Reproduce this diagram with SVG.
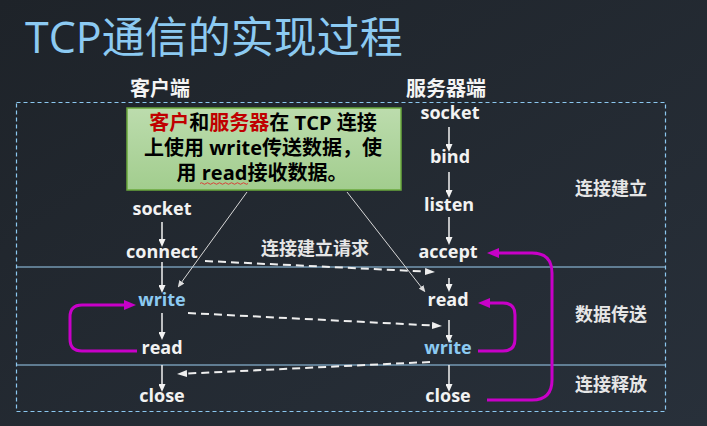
<svg xmlns="http://www.w3.org/2000/svg" width="707" height="426" viewBox="0 0 707 426">
  <defs>
    <linearGradient id="bg" x1="0" y1="0" x2="1" y2="1">
      <stop offset="0" stop-color="#1e2329"/>
      <stop offset="1" stop-color="#28303a"/>
    </linearGradient>
    <linearGradient id="note" x1="0" y1="0" x2="0" y2="1">
      <stop offset="0" stop-color="#bcdcad"/>
      <stop offset="1" stop-color="#a2cd8e"/>
    </linearGradient>
    <marker id="wh" viewBox="0 0 8 7" refX="4" refY="3.5" markerWidth="8" markerHeight="7" markerUnits="userSpaceOnUse" orient="auto">
      <path d="M0,0 L8,3.5 L0,7 z" fill="#f2f2f2"/>
    </marker>
    <marker id="dh" viewBox="0 0 10 7" refX="5" refY="3.5" markerWidth="10" markerHeight="7" markerUnits="userSpaceOnUse" orient="auto">
      <path d="M0,0 L10,3.5 L0,7 z" fill="#eeeeee"/>
    </marker>
    <marker id="th" viewBox="0 0 7 6" refX="3.5" refY="3" markerWidth="7" markerHeight="6" markerUnits="userSpaceOnUse" orient="auto">
      <path d="M0,0 L7,3 L0,6 z" fill="#dddddd"/>
    </marker>
    <marker id="mh" viewBox="0 0 12 10" refX="6" refY="5" markerWidth="12" markerHeight="10" markerUnits="userSpaceOnUse" orient="auto">
      <path d="M0,0 L12,5 L0,10 z" fill="#c800c8"/>
    </marker>
  </defs>
  <style>
    .lbl { font-family: "Open Sans", "Noto Sans CJK SC", sans-serif; font-weight: bold; font-size: 18px; fill: #f2f2f2; text-anchor: middle; }
    .blue { fill: #8ccaf2; }
    .hdr { font-family: "Noto Sans CJK SC", sans-serif; font-weight: bold; font-size: 20px; fill: #f4f4f4; text-anchor: middle; }
    .sec { font-family: "Noto Sans CJK SC", sans-serif; font-weight: bold; font-size: 18px; fill: #e6e6e6; text-anchor: middle; }
    .note { font-family: "Open Sans", "Noto Sans CJK SC", sans-serif; font-weight: bold; font-size: 20px; fill: #000000; text-anchor: middle; }
    .red { fill: #c00000; }
    .arr { stroke: #f2f2f2; stroke-width: 1.5; fill: none; marker-end: url(#wh); }
    .dash { stroke: #eeeeee; stroke-width: 2; stroke-dasharray: 8 5; fill: none; marker-end: url(#dh); }
    .thin { stroke: #d8d8d8; stroke-width: 1; fill: none; marker-end: url(#th); }
    .mag { stroke: #c800c8; stroke-width: 3; fill: none; marker-end: url(#mh); }
  </style>

  <rect width="707" height="426" fill="url(#bg)"/>

  <text x="25" y="53" font-family="'Open Sans', 'Noto Sans CJK SC', sans-serif" font-size="43" fill="#8ccaf2">TCP通信的实现过程</text>

  <g id="frame">
    <rect x="16.5" y="102.5" width="649" height="309" fill="none" stroke="#8cc8f0" stroke-width="1.2" stroke-dasharray="4 3"/>
    <line x1="16.5" y1="267" x2="665.5" y2="267" stroke="#9ccff2" stroke-width="1"/>
    <line x1="16.5" y1="365" x2="665.5" y2="365" stroke="#9ccff2" stroke-width="1"/>
  </g>

  <g id="hdr-client"><text class="hdr" x="160" y="96">客户端</text></g>
  <g id="hdr-server"><text class="hdr" x="446" y="96">服务器端</text></g>

  <g id="note-box">
    <rect x="127" y="108" width="274" height="82" fill="url(#note)" stroke="#6aa83c" stroke-width="1.5"/>
    <text class="note" x="263" y="130"><tspan class="red">客户</tspan>和<tspan class="red">服务器</tspan>在 TCP 连接</text>
    <text class="note" x="263" y="155">上使用 write传送数据，使</text>
    <text class="note" x="262" y="180">用 read接收数据。</text>
    <path d="M200,183.5 q1.5,-1.5 3,0 t3,0 t3,0 t3,0 t3,0 t3,0 t3,0 t3,0 t3,0 t3,0 t3,0 t3,0 t3,0 t3,0 t3,0 t3,0" fill="none" stroke="#e03030" stroke-width="0.9"/>
  </g>

  <g id="c-socket"><text class="lbl" x="162" y="215">socket</text></g>
  <g id="c-connect"><text class="lbl" x="162" y="258">connect</text></g>
  <g id="c-write"><text class="lbl blue" x="162" y="306">write</text></g>
  <g id="c-read"><text class="lbl" x="162" y="354">read</text></g>
  <g id="c-close"><text class="lbl" x="162" y="402">close</text></g>

  <g id="s-socket"><text class="lbl" x="450" y="119">socket</text></g>
  <g id="s-bind"><text class="lbl" x="450" y="163">bind</text></g>
  <g id="s-listen"><text class="lbl" x="449" y="211">listen</text></g>
  <g id="s-accept"><text class="lbl" x="448" y="258">accept</text></g>
  <g id="s-read"><text class="lbl" x="448" y="306">read</text></g>
  <g id="s-write"><text class="lbl blue" x="448" y="354">write</text></g>
  <g id="s-close"><text class="lbl" x="448" y="402">close</text></g>

  <g id="sec-1"><text class="sec" x="611" y="195">连接建立</text></g>
  <g id="sec-2"><text class="sec" x="611" y="321">数据传送</text></g>
  <g id="sec-3"><text class="sec" x="611" y="391">连接释放</text></g>

  <g id="connectors">
    <path class="arr" d="M162,222 V243"/>
    <path class="arr" d="M162,262 V289"/>
    <path class="arr" d="M162,313 V336"/>
    <path class="arr" d="M162,365 V388"/>
    <path class="arr" d="M449,127 V148"/>
    <path class="arr" d="M449,172 V194"/>
    <path class="arr" d="M449,217 V241"/>
    <path class="arr" d="M449,278 V288"/>
    <path class="arr" d="M449,320 V339"/>
    <path class="arr" d="M449,365 V388"/>

    <path class="dash" d="M205,261 L430,271.8"/>
    <text class="sec" x="315" y="255" fill="#f2f2f2">连接建立请求</text>
    <path class="dash" d="M188,313 L437,325.7"/>
    <path class="dash" d="M430,362 L182,373.8"/>

    <path class="thin" d="M247,192 L179.8,284.6"/>
    <path class="thin" d="M347,192 L423.2,289.6"/>

    <path class="mag" d="M137,351 H82 Q70,351 70,339 V317 Q70,305 82,305 H130"/>
    <path class="mag" d="M478,351 H503 Q515,351 515,339 V315 Q515,303 503,303 H484"/>
    <path class="mag" d="M487,400 H532 Q552,400 552,380 V273 Q552,253 532,253 H493"/>
  </g>
</svg>
